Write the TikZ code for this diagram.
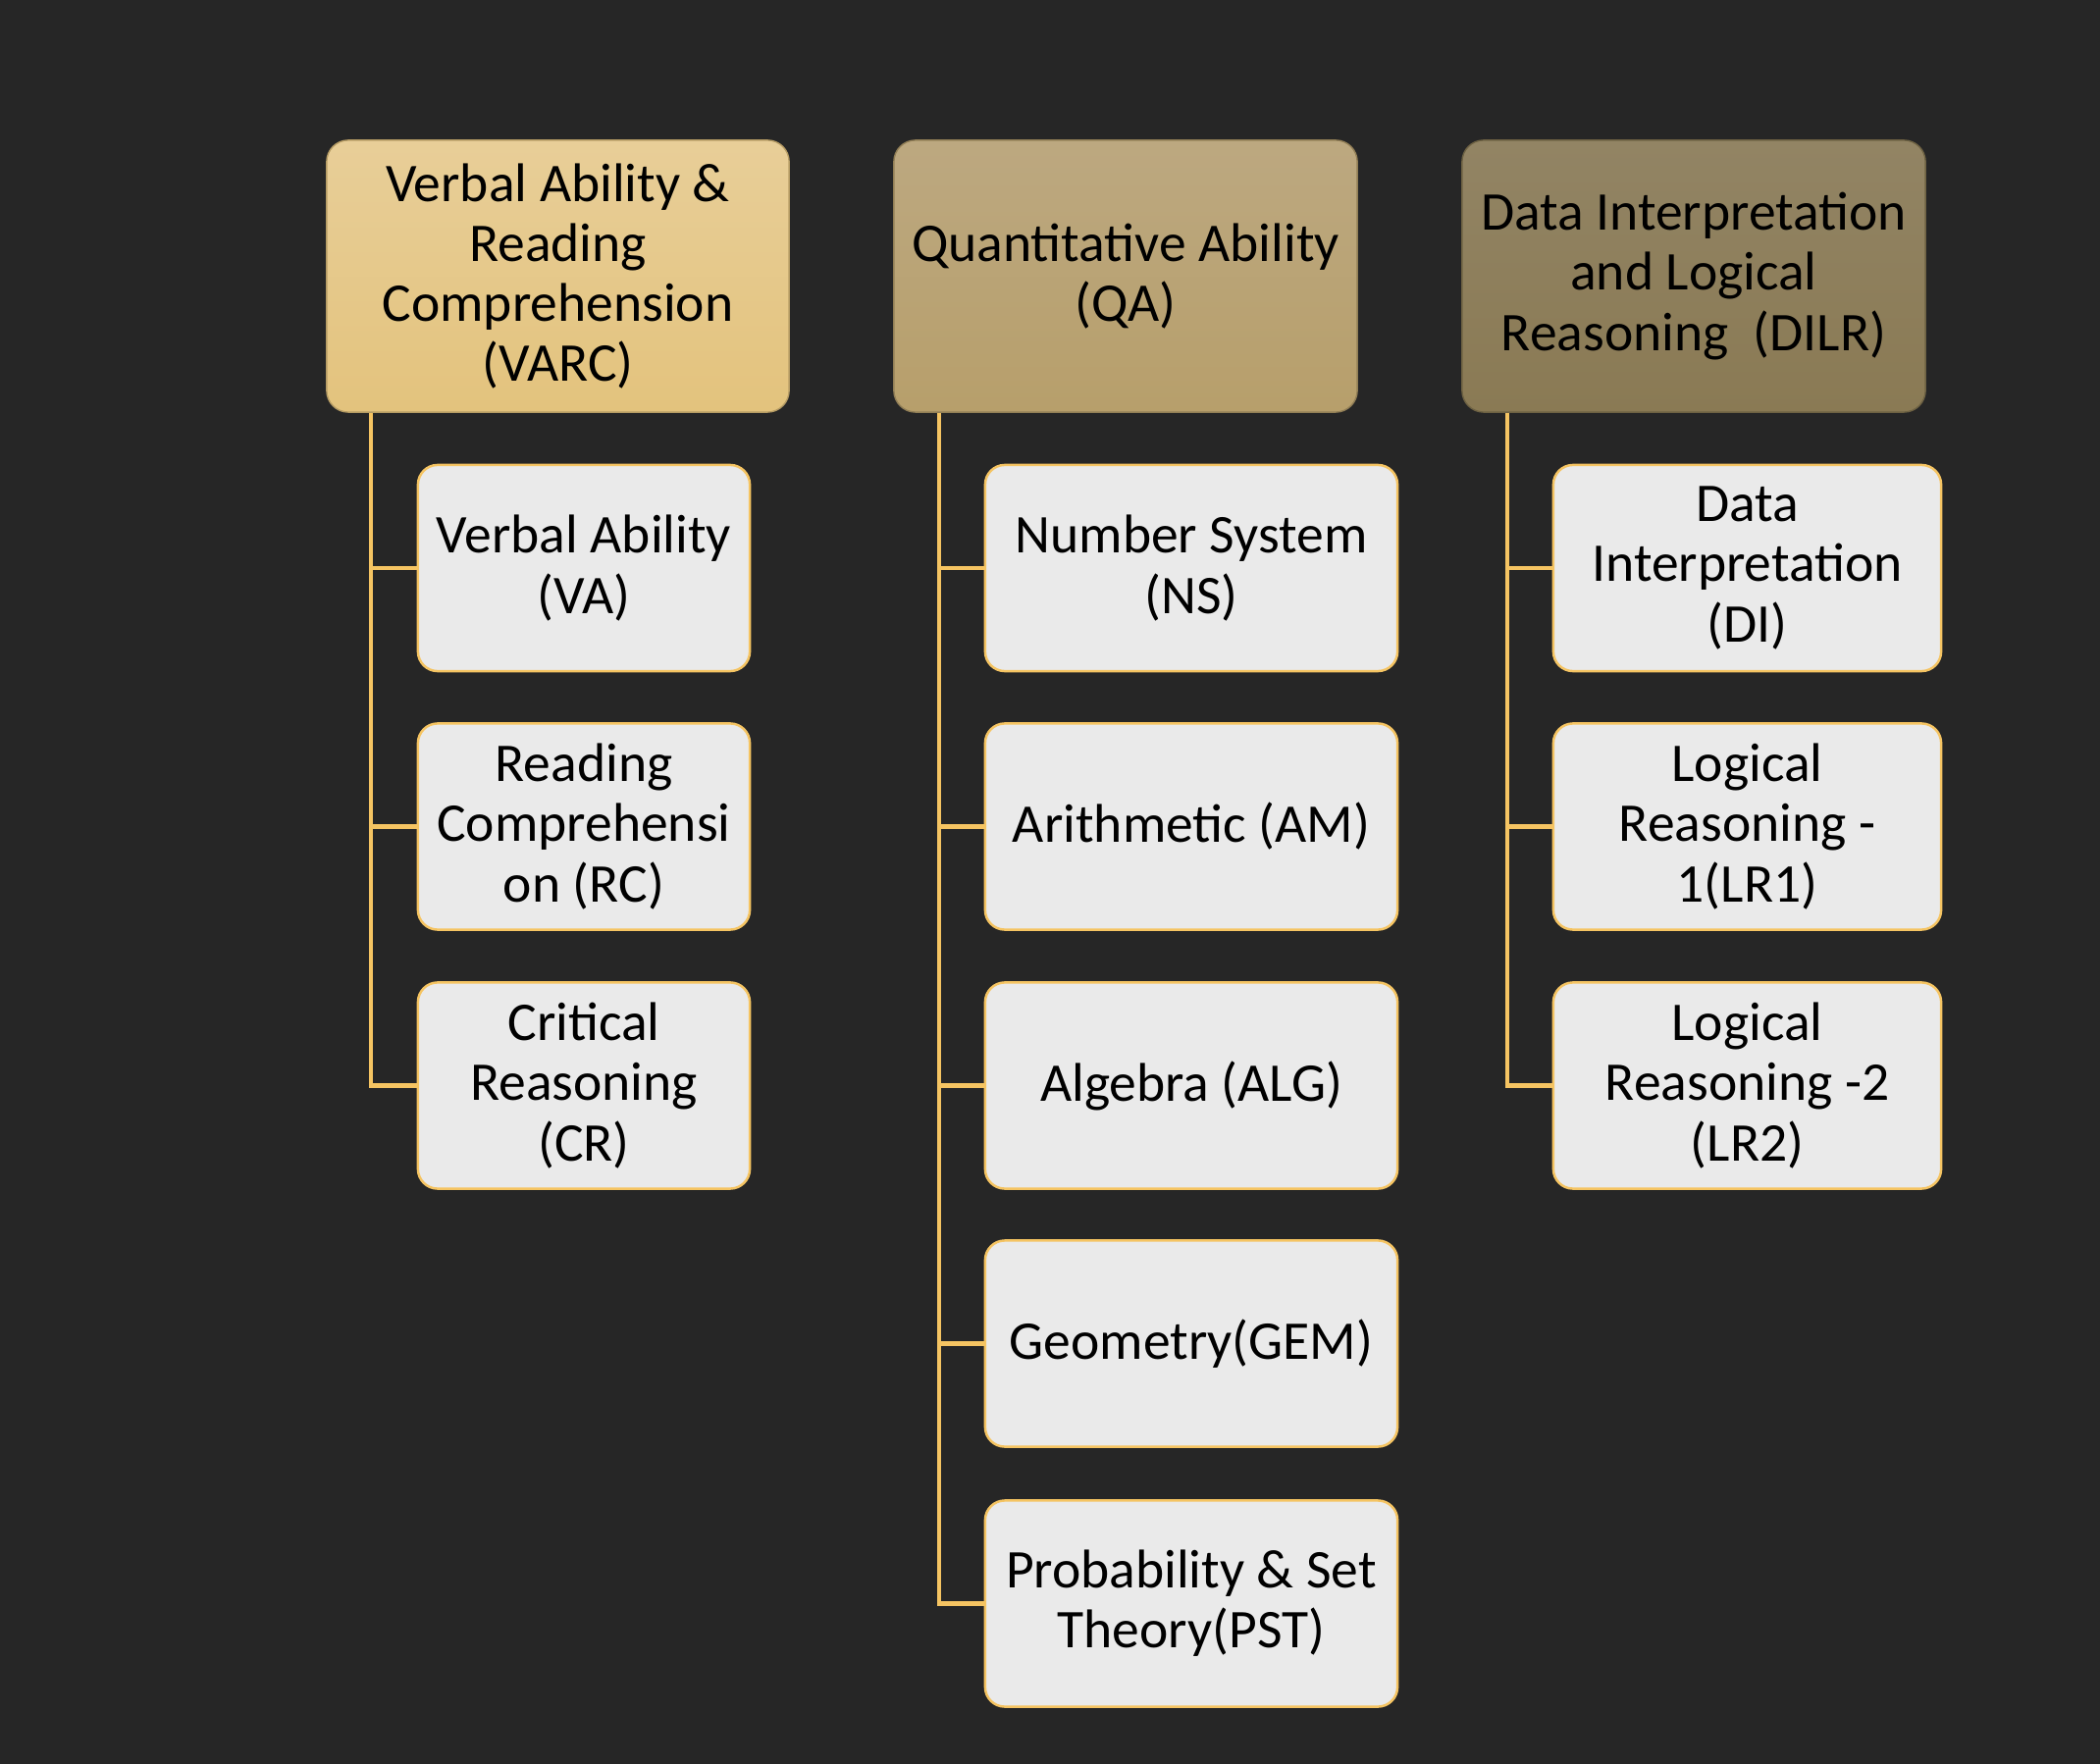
\documentclass[tikz,border=0pt]{standalone}
\usepackage{fontspec}
\setmainfont{Carlito}
\usetikzlibrary{calc}
\definecolor{bg}{HTML}{262626}
\definecolor{gold}{HTML}{F5C462}
\definecolor{childfill}{HTML}{EAEAEA}
\definecolor{vtop}{HTML}{E8CE98}
\definecolor{vbot}{HTML}{E3C37D}
\definecolor{qtop}{HTML}{BCA880}
\definecolor{qbot}{HTML}{B79F6B}
\definecolor{dtop}{HTML}{928464}
\definecolor{dbot}{HTML}{8A7A54}
\tikzset{
  parentbox/.style={rectangle, rounded corners=0.22cm, minimum width=4.71cm, minimum height=2.77cm,
    align=center, inner sep=0pt, text=black, draw=#1!80!black, line width=0.4pt,
    font=\fontsize{15.8}{17.4}\selectfont},
  childbox/.style={rectangle, rounded corners=0.2cm, minimum height=2.1cm, draw=gold,
    line width=0.7pt, fill=childfill, align=center, inner sep=0pt, text=black,
    font=\fontsize{15.8}{17.4}\selectfont},
  conn/.style={draw=gold, line width=1.2pt}
}
\begin{document}
\begin{tikzpicture}[x=0.01cm, y=-0.01cm]
\fill[bg] (0,0) rectangle (2140,1798);
\useasboundingbox (0,0) rectangle (2140,1798);
% parents
\node[parentbox=vbot, top color=vtop, bottom color=vbot] (varc) at (568.5,281.5)
  {Verbal Ability \&\\Reading\\Comprehension\\(VARC)};
\node[parentbox=qbot, top color=qtop, bottom color=qbot, minimum width=4.72cm] (qa) at (1147,281.5)
  {Quantitative Ability\\(QA)};
\node[parentbox=dbot, top color=dtop, bottom color=dbot, minimum width=4.72cm] (dilr) at (1726,281.5)
  {Data Interpretation\\and Logical\\Reasoning\ \ (DILR)};
% VARC children
\node[childbox, minimum width=3.38cm] (va) at (595,579) {Verbal Ability\\(VA)};
\node[childbox, minimum width=3.38cm] (rc) at (595,842.5) {Reading\\Comprehensi\\on (RC)};
\node[childbox, minimum width=3.38cm] (cr) at (595,1106.5) {Critical\\Reasoning\\(CR)};
% QA children
\node[childbox, minimum width=4.2cm] (ns) at (1214,579) {Number System\\(NS)};
\node[childbox, minimum width=4.2cm] (am) at (1214,842.5) {Arithmetic (AM)};
\node[childbox, minimum width=4.2cm] (alg) at (1214,1106.5) {Algebra (ALG)};
\node[childbox, minimum width=4.2cm] (gem) at (1214,1369.5) {Geometry(GEM)};
\node[childbox, minimum width=4.2cm] (pst) at (1214,1634.5) {Probability \& Set\\Theory(PST)};
% DILR children
\node[childbox, minimum width=3.95cm] (di) at (1780.5,579) {Data\\Interpretation\\(DI)};
\node[childbox, minimum width=3.95cm] (lr1) at (1780.5,842.5) {Logical\\Reasoning -\\1(LR1)};
\node[childbox, minimum width=3.95cm] (lr2) at (1780.5,1106.5) {Logical\\Reasoning -2\\(LR2)};
% trunks
\coordinate (vt) at ($(varc.south west)+(46,0)$);
\coordinate (qt) at ($(qa.south west)+(47,0)$);
\coordinate (dt) at ($(dilr.south west)+(47,0)$);
\draw[conn] (vt) |- (va.west);
\draw[conn] (vt) |- (rc.west);
\draw[conn] (vt) |- (cr.west);
\draw[conn] (qt) |- (ns.west);
\draw[conn] (qt) |- (am.west);
\draw[conn] (qt) |- (alg.west);
\draw[conn] (qt) |- (gem.west);
\draw[conn] (qt) |- (pst.west);
\draw[conn] (dt) |- (di.west);
\draw[conn] (dt) |- (lr1.west);
\draw[conn] (dt) |- (lr2.west);
\end{tikzpicture}
\end{document}
